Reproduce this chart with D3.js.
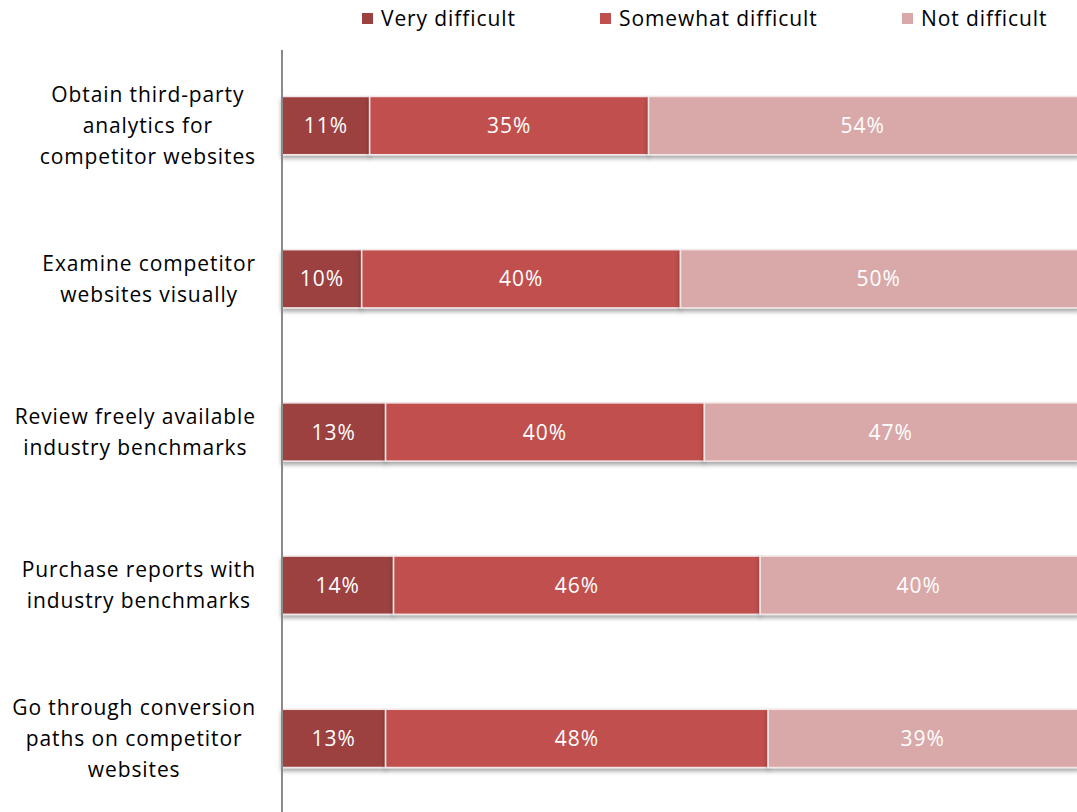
<!DOCTYPE html>
<html><head><meta charset="utf-8">
<script src="https://cdn.jsdelivr.net/npm/d3@7"></script>
<style>body{margin:0;background:#fff}svg{display:block}</style>
</head><body>
<svg id="c" width="1077" height="812"></svg>
<script>
const categories = [
  ["Obtain third-party","analytics for","competitor websites"],
  ["Examine competitor","websites visually"],
  ["Review freely available","industry benchmarks"],
  ["Purchase reports with","industry benchmarks"],
  ["Go through conversion","paths on competitor","websites"]
];
const seriesNames = ["Very difficult","Somewhat difficult","Not difficult"];
const veryDifficult = [11,10,13,14,13];
const somewhatDifficult = [35,40,40,46,48];
const notDifficult = [54,50,47,40,39];
const colors = ["#9C4040","#C0504D","#D9A9A9"];

const svg = d3.select("#c");
const W = 1077, H = 812;
const x0 = 282;
const x = d3.scaleLinear().domain([0,100]).range([x0, 1079]);
const y = d3.scaleBand().domain(d3.range(categories.length)).range([49, 815]).paddingInner(0.62).paddingOuter(0.31);
const font = "'Open Sans', sans-serif";

const defs = svg.append("defs");
const f = defs.append("filter").attr("id","sh").attr("x","-5%").attr("y","-20%").attr("width","110%").attr("height","160%");
f.append("feDropShadow").attr("dx",0).attr("dy",3).attr("stdDeviation",2).attr("flood-color","#000").attr("flood-opacity",0.35);

const rows = categories.map((c,i)=>({i, vals:[veryDifficult[i],somewhatDifficult[i],notDifficult[i]]}));
const series = d3.stack().keys([0,1,2]).value((d,k)=>d.vals[k])(rows);

const g = svg.append("g");
series.forEach((s,k)=>{
  g.selectAll(null).data(s).enter().append("rect")
    .attr("x",d=>x(d[0])).attr("y",d=>y(d.data.i))
    .attr("width",d=>x(d[1])-x(d[0])).attr("height",y.bandwidth())
    .attr("fill",colors[k]).attr("stroke","#f2e6e6").attr("stroke-width",1.5)
    .attr("filter","url(#sh)");
});
series.forEach((s,k)=>{
  g.selectAll(null).data(s).enter().append("text")
    .attr("x",d=>(x(d[0])+Math.min(x(d[1]),W))/2).attr("y",d=>y(d.data.i)+y.bandwidth()/2)
    .attr("dy","0.36em").attr("text-anchor","middle")
    .attr("fill","#fff").style("font-family",font).style("font-size","21px").style("letter-spacing","1px")
    .text(d=>(d[1]-d[0])+"%");
});

// axis line
svg.append("line").attr("x1",x0).attr("x2",x0).attr("y1",50).attr("y2",H).attr("stroke","#8a8a8a").attr("stroke-width",2);

// category labels
categories.forEach((lines,i)=>{
  const cy = y(i)+y.bandwidth()/2;
  const lh = 31;
  const t = svg.append("text").style("font-family",font).style("font-size","21px").style("letter-spacing","0.9px").attr("fill","#000").attr("text-anchor","middle");
  const spans = lines.map((l,j)=>t.append("tspan").attr("y",cy+(j-(lines.length-1)/2)*lh).attr("dy","0.35em").text(l));
  let mw = 0;
  spans.forEach(s=>{mw=Math.max(mw,s.node().getComputedTextLength());});
  const cx = 256 - mw/2;
  spans.forEach(s=>s.attr("x",cx));
});

// legend
const legX = [362, 600, 902];
seriesNames.forEach((n,k)=>{
  svg.append("rect").attr("x",legX[k]).attr("y",13).attr("width",11).attr("height",11).attr("fill",colors[k]);
  svg.append("text").attr("x",legX[k]+19).attr("y",19).attr("dy","0.35em")
    .style("font-family",font).style("font-size","21px").style("letter-spacing","0.9px").attr("fill","#000").text(n);
});
</script>
</body></html>
